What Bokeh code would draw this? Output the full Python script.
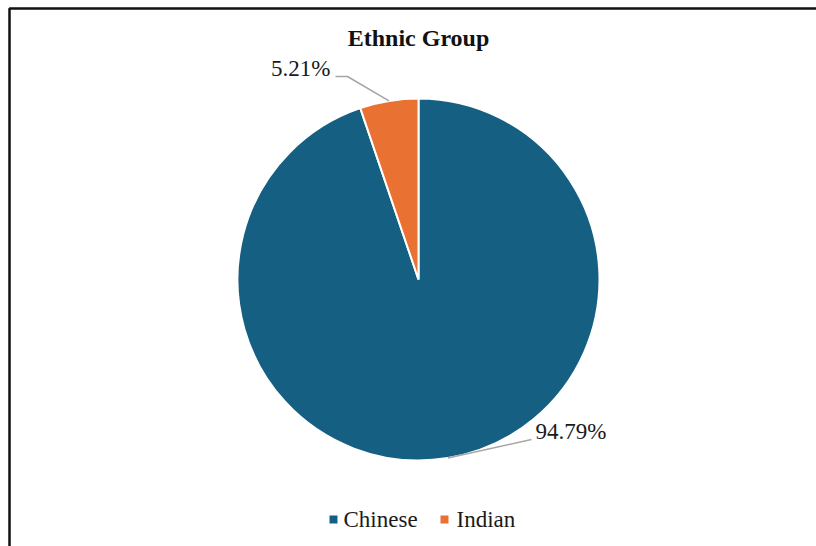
import math
from bokeh.plotting import figure
from bokeh.models import Range1d
from bokeh.core.properties import value
from bokeh.embed import file_html
from bokeh.resources import INLINE

# ---- data ----
title_text = "Ethnic Group"
categories = ["Chinese", "Indian"]
percentages = [94.79, 5.21]
colors = ["#156082", "#E97132"]

# ---- layout (pixels from top-left) ----
W, H = 816, 546
CX, CY_PX, R = 418, 279, 181
FONT = "Liberation Serif"

def Y(py):
    return H - py

p = figure(width=W, height=H, x_range=Range1d(0, W), y_range=Range1d(0, H),
           output_backend="svg", toolbar_location=None, min_border=0)
p.axis.visible = False
p.grid.visible = False
p.outline_line_color = None
p.background_fill_color = "white"
p.border_fill_color = "white"

# frame border (left and top visible, extends past window)
p.line([9, 9, W + 20], [-20, Y(8), Y(8)], line_color="#111111", line_width=2.5)

# pie wedges
total = sum(percentages)
start = math.pi / 2
mids = []
for cat, v, c in zip(categories, percentages, colors):
    end = start - 2 * math.pi * v / total
    p.wedge(x=CX, y=Y(CY_PX), radius=R, start_angle=end, end_angle=start,
            fill_color=c, line_color="white", line_width=2)
    mids.append((start + end) / 2)
    start = end

# anchor points on the circle
anchors = [(CX + R * math.cos(m), Y(CY_PX) + R * math.sin(m)) for m in mids]

# leader lines & labels
leader_color = "#A6A6A6"
# Chinese
ax, ay = anchors[0]
p.line([ax, 531], [ay, Y(439)], line_color=leader_color, line_width=1.5)
p.text(x=[535], y=[Y(431)], text=[f"{percentages[0]:.2f}%"],
       text_font=value(FONT), text_font_size="23px", text_color="#1a1a1a",
       text_align="left", text_baseline="middle")
# Indian
ax, ay = anchors[1]
p.line([ax, 347, 335], [ay, Y(76), Y(76)], line_color=leader_color, line_width=1.5)
p.text(x=[330], y=[Y(68)], text=[f"{percentages[1]:.2f}%"],
       text_font=value(FONT), text_font_size="23px", text_color="#1a1a1a",
       text_align="right", text_baseline="middle")

# title
p.text(x=[CX], y=[Y(37)], text=[title_text], text_font=value(FONT),
       text_font_size="24px", text_font_style="bold", text_color="#111111",
       text_align="center", text_baseline="middle")

# legend
leg_sq_x = [333, 444]
leg_tx_x = [343, 456]
p.scatter(x=leg_sq_x, y=[Y(519)] * 2, marker="square", size=8,
          fill_color=colors, line_color=None)
p.text(x=leg_tx_x, y=[Y(519)] * 2, text=categories, text_font=value(FONT),
       text_font_size="23px", text_color="#1a1a1a",
       text_align="left", text_baseline="middle")

open("out.html", "w").write(file_html(p, INLINE))
